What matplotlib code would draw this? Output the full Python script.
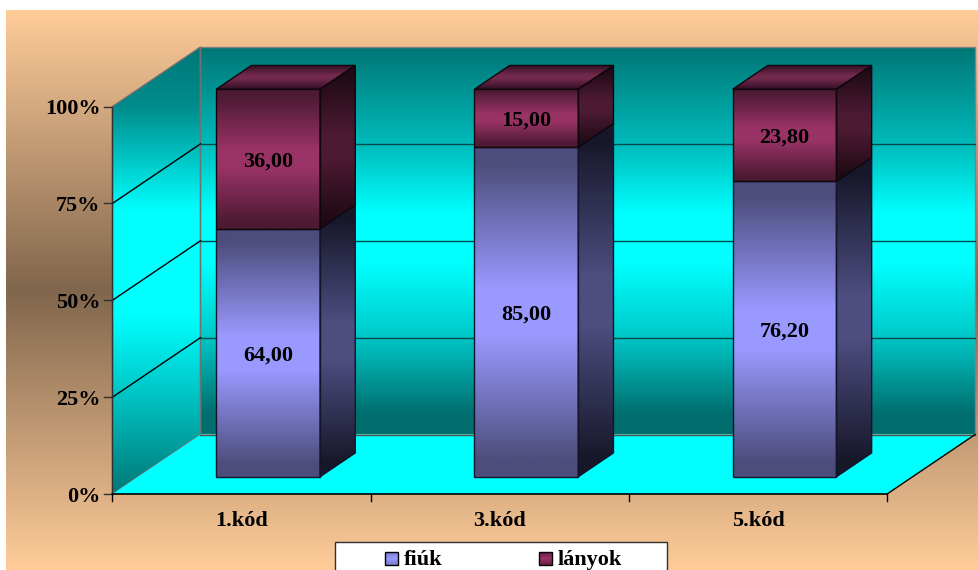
#!/usr/bin/python3
import numpy as np
import matplotlib
matplotlib.use('Agg')
import matplotlib.pyplot as plt
from matplotlib.colors import LinearSegmentedColormap
from matplotlib.patches import Polygon, Rectangle

categories = ['1.kód', '3.kód', '5.kód']
fiuk = [64.00, 85.00, 76.20]
lanyok = [36.00, 15.00, 23.80]
labels_fiuk = ['64,00', '85,00', '76,20']
labels_lanyok = ['36,00', '15,00', '23,80']
y_ticks = [0, 25, 50, 75, 100]
series_names = ['fiúk', 'lányok']

# layout of the fake 3d box, in pixels
X0, Y0 = 112.5, 494.0
CAT_W = 258.2
H100 = 387.5
DX, DY = 88.0, 59.5
BAR_W = 0.402
BAR_C = 0.504
D_FRONT, D_BACK = 0.29, 0.69

def proj(cat, val, depth):
    return (X0 + CAT_W * cat + DX * depth, Y0 - H100 * val / 100.0 - DY * depth)

def band(dark, light):
    # dark at both ends, light in the middle, with short flat parts
    return [(0, dark), (0.05, dark), (0.43, light), (0.57, light), (0.95, dark), (1, dark)]

def fill_grad(ax, pts, colors, edge=None, lw=1.0, z=1):
    """Vertical gradient inside a polygon."""
    pts = np.array(pts)
    cmap = LinearSegmentedColormap.from_list('g', colors)
    grad = np.linspace(0, 1, 256).reshape(-1, 1)
    ext = (pts[:, 0].min(), pts[:, 0].max(), pts[:, 1].max(), pts[:, 1].min())
    im = ax.imshow(grad, cmap=cmap, extent=ext, aspect='auto', origin='upper',
                   zorder=z, interpolation='bilinear')
    clip = Polygon(pts, closed=True, transform=ax.transData)
    im.set_clip_path(clip)
    if edge is not None:
        ax.add_patch(Polygon(pts, closed=True, fill=False, edgecolor=edge, linewidth=lw, zorder=z + 0.1))

def draw_segment(ax, cat, v0, v1, front, side, top=None, edge='#14142a', z=5):
    xl = cat + BAR_C - BAR_W / 2
    xr = cat + BAR_C + BAR_W / 2
    a = proj(xl, v0, D_FRONT)
    b = proj(xr, v0, D_FRONT)
    c = proj(xr, v1, D_FRONT)
    d = proj(xl, v1, D_FRONT)
    e = proj(xr, v0, D_BACK)
    f = proj(xr, v1, D_BACK)
    g = proj(xl, v1, D_BACK)
    fill_grad(ax, [a, b, c, d], front, edge=edge, z=z)
    fill_grad(ax, [b, e, f, c], side, edge=edge, z=z)
    if top is not None:
        fill_grad(ax, [d, c, f, g], top, edge=edge, z=z)

def main():
    fig = plt.figure(figsize=(9.79, 5.70), dpi=100)
    ax = fig.add_axes([0, 0, 1, 1])
    ax.set_axis_off()
    font = dict(family='Liberation Serif', weight='bold', color='black')
    fs = 16

    # page background
    fill_grad(ax, [(6, 10), (979, 10), (979, 570), (6, 570)], ['#ffcc99', '#80664d', '#ffcc99'], z=0)

    # walls and floor
    back_cols = [(0, '#007575'), (0.25, '#00baba'), (0.43, '#00ffff'), (0.56, '#00ffff'),
                 (0.74, '#00cccc'), (0.95, '#006e6e'), (1, '#006e6e')]
    side_cols = [(0, '#007878'), (0.134, '#008c8c'), (0.365, '#00ffff'), (0.6, '#00ffff'),
                 (0.745, '#00d0d0'), (1, '#007878')]
    back = [proj(0, 0, 1), proj(3, 0, 1), proj(3, 100, 1), proj(0, 100, 1)]
    side = [proj(0, 0, 0), proj(0, 0, 1), proj(0, 100, 1), proj(0, 100, 0)]
    fill_grad(ax, back, back_cols, edge='#808080', z=1)
    fill_grad(ax, side, side_cols, edge='#707070', z=1)
    floor = [proj(0, 0, 0), proj(3, 0, 0), proj(3, 0, 1), proj(0, 0, 1)]
    ax.add_patch(Polygon(floor, closed=True, facecolor='#00ffff', edgecolor='none', zorder=1.2))
    p0, p1 = proj(0, 0, 1), proj(3, 0, 1)
    ax.plot([p0[0], p1[0]], [p0[1], p1[1]], color='#505050', lw=1, zorder=1.3)

    # grid lines
    for t in y_ticks[1:-1]:
        p0, p1, p2 = proj(0, t, 0), proj(0, t, 1), proj(3, t, 1)
        ax.plot([p0[0], p1[0]], [p0[1], p1[1]], color='black', lw=1, zorder=2)
        ax.plot([p1[0], p2[0]], [p1[1], p2[1]], color='#004a4a', lw=1, zorder=2)
    p0, p1 = proj(3, 0, 0), proj(3, 0, 1)
    ax.plot([p0[0], p1[0]], [p0[1], p1[1]], color='black', lw=1, zorder=2)

    # axes
    ax.plot(*zip(proj(0, 0, 0), proj(0, 100, 0)), color='#303030', lw=1, zorder=3)
    ax.plot(*zip(proj(0, 0, 0), proj(3, 0, 0)), color='black', lw=1.2, zorder=3)
    for t in y_ticks:
        x, y = proj(0, t, 0)
        ax.plot([x - 8, x], [y, y], color='#303030', lw=1, zorder=3)
        ax.text(x - 12, y + 2.5, '%d%%' % t, ha='right', va='center', fontsize=fs, zorder=6, **font)
    for i in range(len(categories) + 1):
        x, y = proj(i, 0, 0)
        ax.plot([x, x], [y, y + 7], color='black', lw=1, zorder=3)
    for i, name in enumerate(categories):
        x, y = proj(i + 0.5, 0, 0)
        ax.text(x, y + 26.5, name, ha='center', va='center', fontsize=fs, zorder=6, **font)

    # stacked bars
    blue_front = band('#4d4d7c', '#9999ff')
    blue_side = band('#17172a', '#4d4d80')
    pink_front = band('#4d1a33', '#993366')
    pink_side = band('#1e0a14', '#4d1a33')
    pink_top = band('#3a1228', '#732a4d')
    for i in range(len(categories)):
        draw_segment(ax, i, 0, fiuk[i], blue_front, blue_side)
        draw_segment(ax, i, fiuk[i], fiuk[i] + lanyok[i], pink_front, pink_side, pink_top, edge='#10060c')
        cx = i + BAR_C
        x, y = proj(cx, fiuk[i] / 2.0, D_FRONT)
        ax.text(x, y + 2.5, labels_fiuk[i], ha='center', va='center', fontsize=fs, zorder=7, **font)
        x, y = proj(cx, fiuk[i] + lanyok[i] / 2.0, D_FRONT)
        ax.text(x, y + 2.5, labels_lanyok[i], ha='center', va='center', fontsize=fs, zorder=7, **font)

    # legend, cut by the bottom of the picture
    ax.add_patch(Rectangle((335, 542), 332, 40, facecolor='white', edgecolor='#303030', lw=1, zorder=8))
    fill_grad(ax, [(385, 552), (398, 552), (398, 565), (385, 565)], ['#7a7acc', '#9999ff', '#7a7acc'],
              edge='black', z=9)
    fill_grad(ax, [(539, 552), (552, 552), (552, 565), (539, 565)], ['#661f44', '#993366', '#661f44'],
              edge='black', z=9)
    ax.text(404, 565, series_names[0], ha='left', va='baseline', fontsize=fs, zorder=9, **font)
    ax.text(558, 565, series_names[1], ha='left', va='baseline', fontsize=fs, zorder=9, **font)

    ax.set_xlim(0, 979)
    ax.set_ylim(570, 0)
    fig.savefig('out.png', dpi=100, facecolor='white')

if __name__ == '__main__':
    main()
